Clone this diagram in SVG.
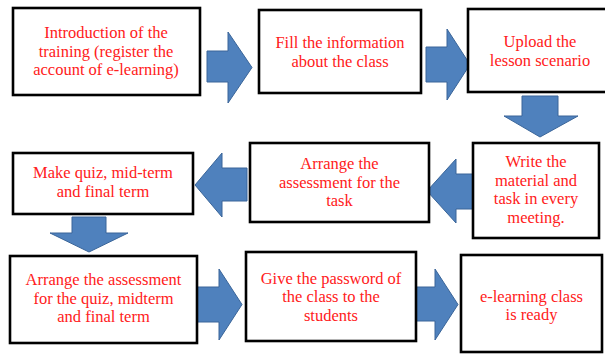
<svg xmlns="http://www.w3.org/2000/svg" width="605" height="354" viewBox="0 0 605 354">
<style>
.box{fill:#ffffff;stroke:#000000;stroke-width:2.6}
.arr{fill:#4f81bd;stroke:#3a6599;stroke-width:1}
.t{font-family:"Liberation Serif","Times New Roman",serif;font-size:16.5px;fill:#ff2020;text-anchor:middle}
</style>
<rect width="605" height="354" fill="#ffffff"/>
<g id="connectors">
<polygon class="arr" points="207,51 228,51 228,32 252,67.5 228,103 228,82 207,82"/>
<polygon class="arr" points="426,47 447,47 447,29 470,64.5 447,100 447,82 426,82"/>
<polygon class="arr" points="522,96 558,96 558,116 578,116 540,137 504,116 522,116"/>
<polygon class="arr" points="478,174 456,174 456,159 427,191 456,223 456,209 478,209"/>
<polygon class="arr" points="247,168 222,168 222,153 195,185 222,217 222,201 247,201"/>
<polygon class="arr" points="72,217 106,217 106,233 128,233 89,252 50,233 72,233"/>
<polygon class="arr" points="197,287 219,287 219,269 242,304.5 219,340 219,322 197,322"/>
<polygon class="arr" points="415,287 435,287 435,269 458,304.5 435,340 435,321 415,321"/>
</g>
<g id="n1">
<rect class="box" x="13" y="8" width="187" height="87"/>
<text class="t" x="106" y="38">Introduction of the</text>
<text class="t" x="106" y="56.5">training (register the</text>
<text class="t" x="106" y="75">account of e-learning)</text>
</g>
<g id="n2">
<rect class="box" x="259" y="10" width="162" height="83"/>
<text class="t" x="340" y="48">Fill the information</text>
<text class="t" x="340" y="66.5">about the class</text>
</g>
<g id="n3">
<rect class="box" x="468" y="9" width="142" height="83"/>
<text class="t" x="540" y="47">Upload the</text>
<text class="t" x="540" y="65.5">lesson scenario</text>
</g>
<g id="n4">
<rect class="box" x="473" y="143" width="126" height="95"/>
<text class="t" x="536" y="167">Write the</text>
<text class="t" x="536" y="185.5">material and</text>
<text class="t" x="536" y="204">task in every</text>
<text class="t" x="536" y="222.5">meeting.</text>
</g>
<g id="n5">
<rect class="box" x="250" y="143" width="179" height="79"/>
<text class="t" x="339.5" y="169">Arrange the</text>
<text class="t" x="339.5" y="187.5">assessment for the</text>
<text class="t" x="339.5" y="206">task</text>
</g>
<g id="n6">
<rect class="box" x="13" y="153" width="180" height="61"/>
<text class="t" x="103" y="178">Make quiz, mid-term</text>
<text class="t" x="103" y="196.5">and final term</text>
</g>
<g id="n7">
<rect class="box" x="10" y="256" width="187" height="87"/>
<text class="t" x="103.5" y="285">Arrange the assessment</text>
<text class="t" x="103.5" y="303.5">for the quiz, midterm</text>
<text class="t" x="103.5" y="322">and final term</text>
</g>
<g id="n8">
<rect class="box" x="246" y="252" width="170" height="89"/>
<text class="t" x="331" y="283.5">Give the password of</text>
<text class="t" x="331" y="302">the class to the</text>
<text class="t" x="331" y="320.5">students</text>
</g>
<g id="n9">
<rect class="box" x="461" y="255" width="141" height="97"/>
<text class="t" x="531.5" y="301.5">e-learning class</text>
<text class="t" x="531.5" y="320">is ready</text>
</g>
</svg>
